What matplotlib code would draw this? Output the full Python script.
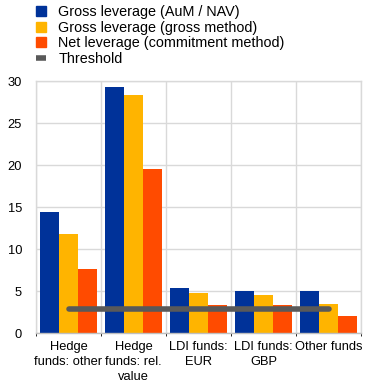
import matplotlib
matplotlib.use("Agg")
import matplotlib.pyplot as plt
import numpy as np
from matplotlib.lines import Line2D
from matplotlib.patches import Patch

plt.rcParams['font.family'] = ['Liberation Sans', 'DejaVu Sans']

categories = ["Hedge\nfunds: other", "Hedge\nfunds: rel.\nvalue", "LDI funds:\nEUR", "LDI funds:\nGBP", "Other funds"]
gross_aum = [14.4, 29.3, 5.4, 5.0, 5.0]
gross_method = [11.8, 28.3, 4.8, 4.5, 3.5]
net_commit = [7.6, 19.5, 3.3, 3.3, 2.0]
threshold = 2.85
series_labels = ["Gross leverage (AuM / NAV)", "Gross leverage (gross method)", "Net leverage (commitment method)", "Threshold"]
colors = ["#003299", "#FFB400", "#FF4B00", "#595959"]

W, H = 372, 389
fig = plt.figure(figsize=(W/100, H/100), dpi=100)
ax = fig.add_axes([36/W, 1-333/H, 325/W, 252/H])

x = np.arange(len(categories))
bw = 0.29
for i, (vals, c) in enumerate(zip([gross_aum, gross_method, net_commit], colors)):
    ax.bar(x + (i-1)*bw, vals, width=bw, color=c, zorder=2)
ax.plot([x[0], x[-1]], [threshold, threshold], color=colors[3], lw=4, solid_capstyle='round', zorder=3)

fs = 9.3
lfs = 10.4
ax.set_xlim(-0.5, len(categories)-0.5)
ax.set_ylim(0, 30)
ax.set_yticks(range(0, 31, 5))
ax.set_xticks(x)
ax.set_xticklabels(categories, fontsize=fs, linespacing=1.3)
ax.set_xticks(np.arange(-0.5, len(categories), 1), minor=True)
ax.tick_params(axis='both', length=0, labelsize=fs, colors='#000000')
ax.tick_params(axis='x', pad=6)
ax.tick_params(axis='y', pad=10)
ax.grid(True, axis='y', color='#d9d9d9', lw=1, zorder=0)
ax.grid(True, axis='x', which='minor', color='#d9d9d9', lw=1, zorder=0)
ax.grid(False, axis='x', which='major')
for s in ax.spines.values():
    s.set_color('#d9d9d9')
    s.set_linewidth(1)
ax.spines['bottom'].set_color('#bfbfbf')

handles = [Patch(color=colors[0]), Patch(color=colors[1]), Patch(color=colors[2]),
           Line2D([0], [0], color=colors[3], lw=4, solid_capstyle='butt')]
fig.legend(handles, series_labels, loc='upper left', bbox_to_anchor=(36/W, 1-5/H),
           frameon=False, fontsize=lfs, handlelength=0.7, handleheight=0.7,
           handletextpad=0.85, labelspacing=0.12, borderaxespad=0, borderpad=0)

fig.savefig("out.png", dpi=100)
